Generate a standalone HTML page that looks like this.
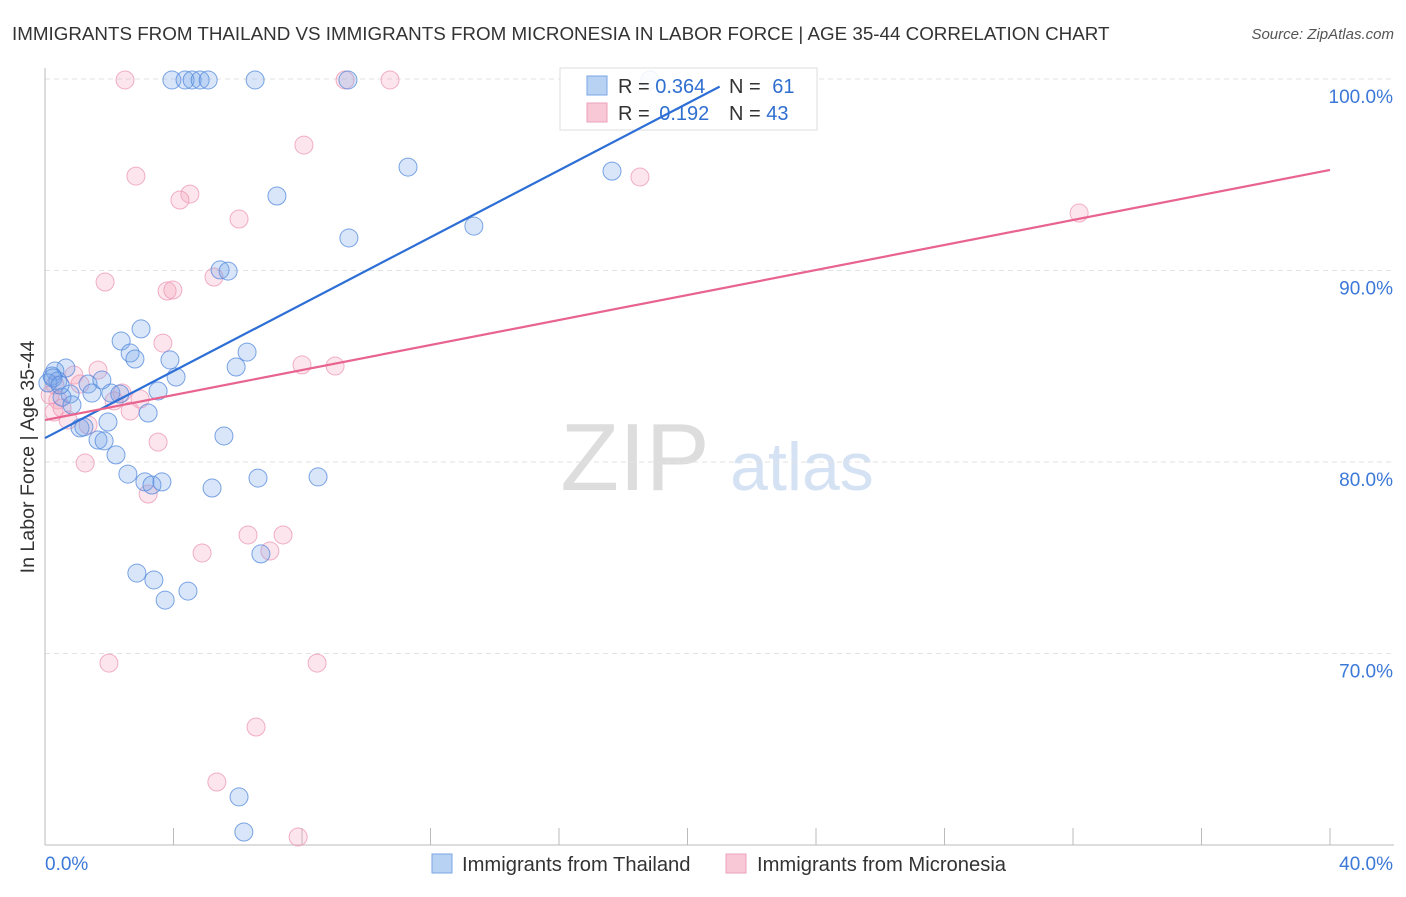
<!DOCTYPE html>
<html><head><meta charset="utf-8"><style>
body{margin:0;background:#fff;font-family:"Liberation Sans",sans-serif}
svg text{font-family:"Liberation Sans",sans-serif}
</style></head><body>
<svg id="chart" width="1406" height="892">
<text x="12" y="40" font-size="18.8" fill="#333">IMMIGRANTS FROM THAILAND VS IMMIGRANTS FROM MICRONESIA IN LABOR FORCE | AGE 35-44 CORRELATION CHART</text>
<text x="1394" y="39" font-size="15" fill="#555" font-style="italic" text-anchor="end">Source: ZipAtlas.com</text>
<text x="635" y="490" font-size="96" fill="#ddd" font-family="Liberation Serif" text-anchor="middle">ZIP</text>
<text x="802" y="490" font-size="68" fill="#d4e2f4" text-anchor="middle">atlas</text>
<text transform="translate(34,457) rotate(-90)" font-size="19.6" fill="#333" text-anchor="middle">In Labor Force | Age 35-44</text>
<g id="grid"></g><g id="pts"></g>
<g>
<rect x="560" y="68" width="257" height="62" fill="rgba(255,255,255,0.88)" stroke="#ddd"/>
<rect x="587" y="76" width="20" height="19" fill="#b8d2f4" stroke="#7aa6e6"/>
<rect x="587" y="103" width="20" height="19" fill="#f8c8d6" stroke="#eca0b8"/>
<text x="618" y="93" font-size="20" fill="#333">R = <tspan fill="#2f6fd0">0.364</tspan></text>
<text x="729" y="93" font-size="20" fill="#333">N = <tspan fill="#2f6fd0" dx="6">61</tspan></text>
<text x="618" y="120" font-size="20" fill="#333">R = <tspan fill="#2f6fd0" dx="4">0.192</tspan></text>
<text x="729" y="120" font-size="20" fill="#333">N = <tspan fill="#2f6fd0">43</tspan></text>
</g>
<g id="lines"></g>
<g>
<rect x="432" y="854" width="20" height="19" fill="#b8d2f4" stroke="#7aa6e6"/>
<text x="462" y="871" font-size="20.2" fill="#333">Immigrants from Thailand</text>
<rect x="726" y="854" width="20" height="19" fill="#f8c8d6" stroke="#eca0b8"/>
<text x="757" y="871" font-size="20.2" fill="#333">Immigrants from Micronesia</text>
</g>
</svg>
<script>
const yTicks=[100,90,80,70];
const xTickLabels=["0.0%","40.0%"];
const blueX=[3.95,4.36,4.58,4.83,5.08,6.54,9.43,18.83,11.30,17.65,7.22,13.35,9.46,5.45,5.70,2.99,2.37,2.65,2.80,3.89,6.29,5.95,4.08,0.65,0.31,0.22,0.40,0.09,1.34,1.77,1.46,2.05,2.33,3.52,0.78,0.53,0.84,3.21,1.96,1.09,1.21,1.65,1.84,2.21,5.57,2.58,3.11,3.33,3.64,5.20,6.63,8.50,6.72,2.86,3.39,3.74,4.45,6.04,6.19,0.25,0.47];
const blueY=[99.95,99.95,99.95,99.95,99.95,99.95,99.95,99.95,95.40,95.19,93.89,92.32,91.70,90.03,89.97,86.95,86.32,85.69,85.38,85.33,85.74,84.96,84.44,84.91,84.75,84.49,84.23,84.13,84.07,84.28,83.60,83.60,83.55,83.71,83.55,83.39,82.98,82.56,82.09,81.78,81.83,81.15,81.10,80.37,81.36,79.37,78.96,78.80,78.96,78.64,79.16,79.22,75.20,74.20,73.84,72.79,73.26,62.51,60.68,84.39,84.02];
const pinkX=[2.49,9.34,10.74,8.06,2.83,4.51,4.20,18.52,6.04,32.19,1.87,5.26,3.80,3.98,3.67,8.00,9.03,1.65,0.90,1.09,2.40,2.15,2.96,0.31,0.16,0.40,0.28,0.72,1.34,2.65,3.52,1.25,3.21,4.89,6.32,7.41,7.00,1.99,8.47,6.57,5.35,7.88,0.53];
const pinkY=[99.95,99.95,99.95,96.55,94.93,93.99,93.68,94.88,92.69,93.00,89.40,89.66,88.93,88.98,86.21,85.07,85.01,84.80,84.54,84.07,83.60,83.19,83.29,84.02,83.50,83.24,82.61,82.19,81.93,82.66,81.04,79.95,78.33,75.25,76.19,76.19,75.35,69.50,69.50,66.16,63.29,60.42,82.82];
const blueTrend=[[0,81.25],[21,99.6]];
const pinkTrend=[[0,82.19],[40,95.25]];
const NS="http://www.w3.org/2000/svg";
const X=v=>45+v*32.125, Y=v=>79+(100-v)*19.15;
function mk(tag,attrs,parent){const e=document.createElementNS(NS,tag);for(const k in attrs)e.setAttribute(k,attrs[k]);parent.appendChild(e);return e;}
const grid=document.getElementById('grid'),pts=document.getElementById('pts'),lines=document.getElementById('lines');
yTicks.forEach(t=>{
 const l=mk('line',{x1:45,x2:1394,y1:Y(t),y2:Y(t),stroke:'#e2e2e2','stroke-dasharray':'5,4'},grid);
 
 
 const tx=mk('text',{x:1393,y:Y(t)+24,'font-size':19,fill:'#3b78d8','text-anchor':'end'},grid);
 tx.textContent=t.toFixed(1)+'%';
 
 
});
const ax=mk('line',{x1:45,x2:45,y1:68,y2:845,stroke:'#bbb'},grid);


const bx=mk('line',{x1:45,x2:1394,y1:845,y2:845,stroke:'#bbb'},grid);


for(let i=0;i<=10;i++){const t=mk('line',{x1:X(i*4),x2:X(i*4),y1:828,y2:845,stroke:'#bbb'},grid);
 
 }
const xl0=mk('text',{x:45,y:870,'font-size':19,fill:'#3b78d8'},grid);xl0.textContent=xTickLabels[0];


const xl1=mk('text',{x:1393,y:870,'font-size':19,fill:'#3b78d8','text-anchor':'end'},grid);xl1.textContent=xTickLabels[1];


pinkX.forEach((x,i)=>{const c=mk('circle',{cx:X(x),cy:Y(pinkY[i]),r:9,fill:'rgba(244,160,188,0.28)',stroke:'rgba(236,150,180,0.75)','stroke-width':1},pts);
 
 });
blueX.forEach((x,i)=>{const c=mk('circle',{cx:X(x),cy:Y(blueY[i]),r:9,fill:'rgba(120,165,235,0.28)',stroke:'rgba(80,135,220,0.75)','stroke-width':1},pts);
 
 });
const bl=mk('line',{x1:X(blueTrend[0][0]),y1:Y(blueTrend[0][1]),x2:X(blueTrend[1][0]),y2:Y(blueTrend[1][1]),stroke:'#2d6fd6','stroke-width':2.2},lines);


bl.setAttribute('opacity','1');
const pl=mk('line',{x1:X(pinkTrend[0][0]),y1:Y(pinkTrend[0][1]),x2:X(pinkTrend[1][0]),y2:Y(pinkTrend[1][1]),stroke:'#e8648f','stroke-width':2.2},lines);


</script>
</body></html>
